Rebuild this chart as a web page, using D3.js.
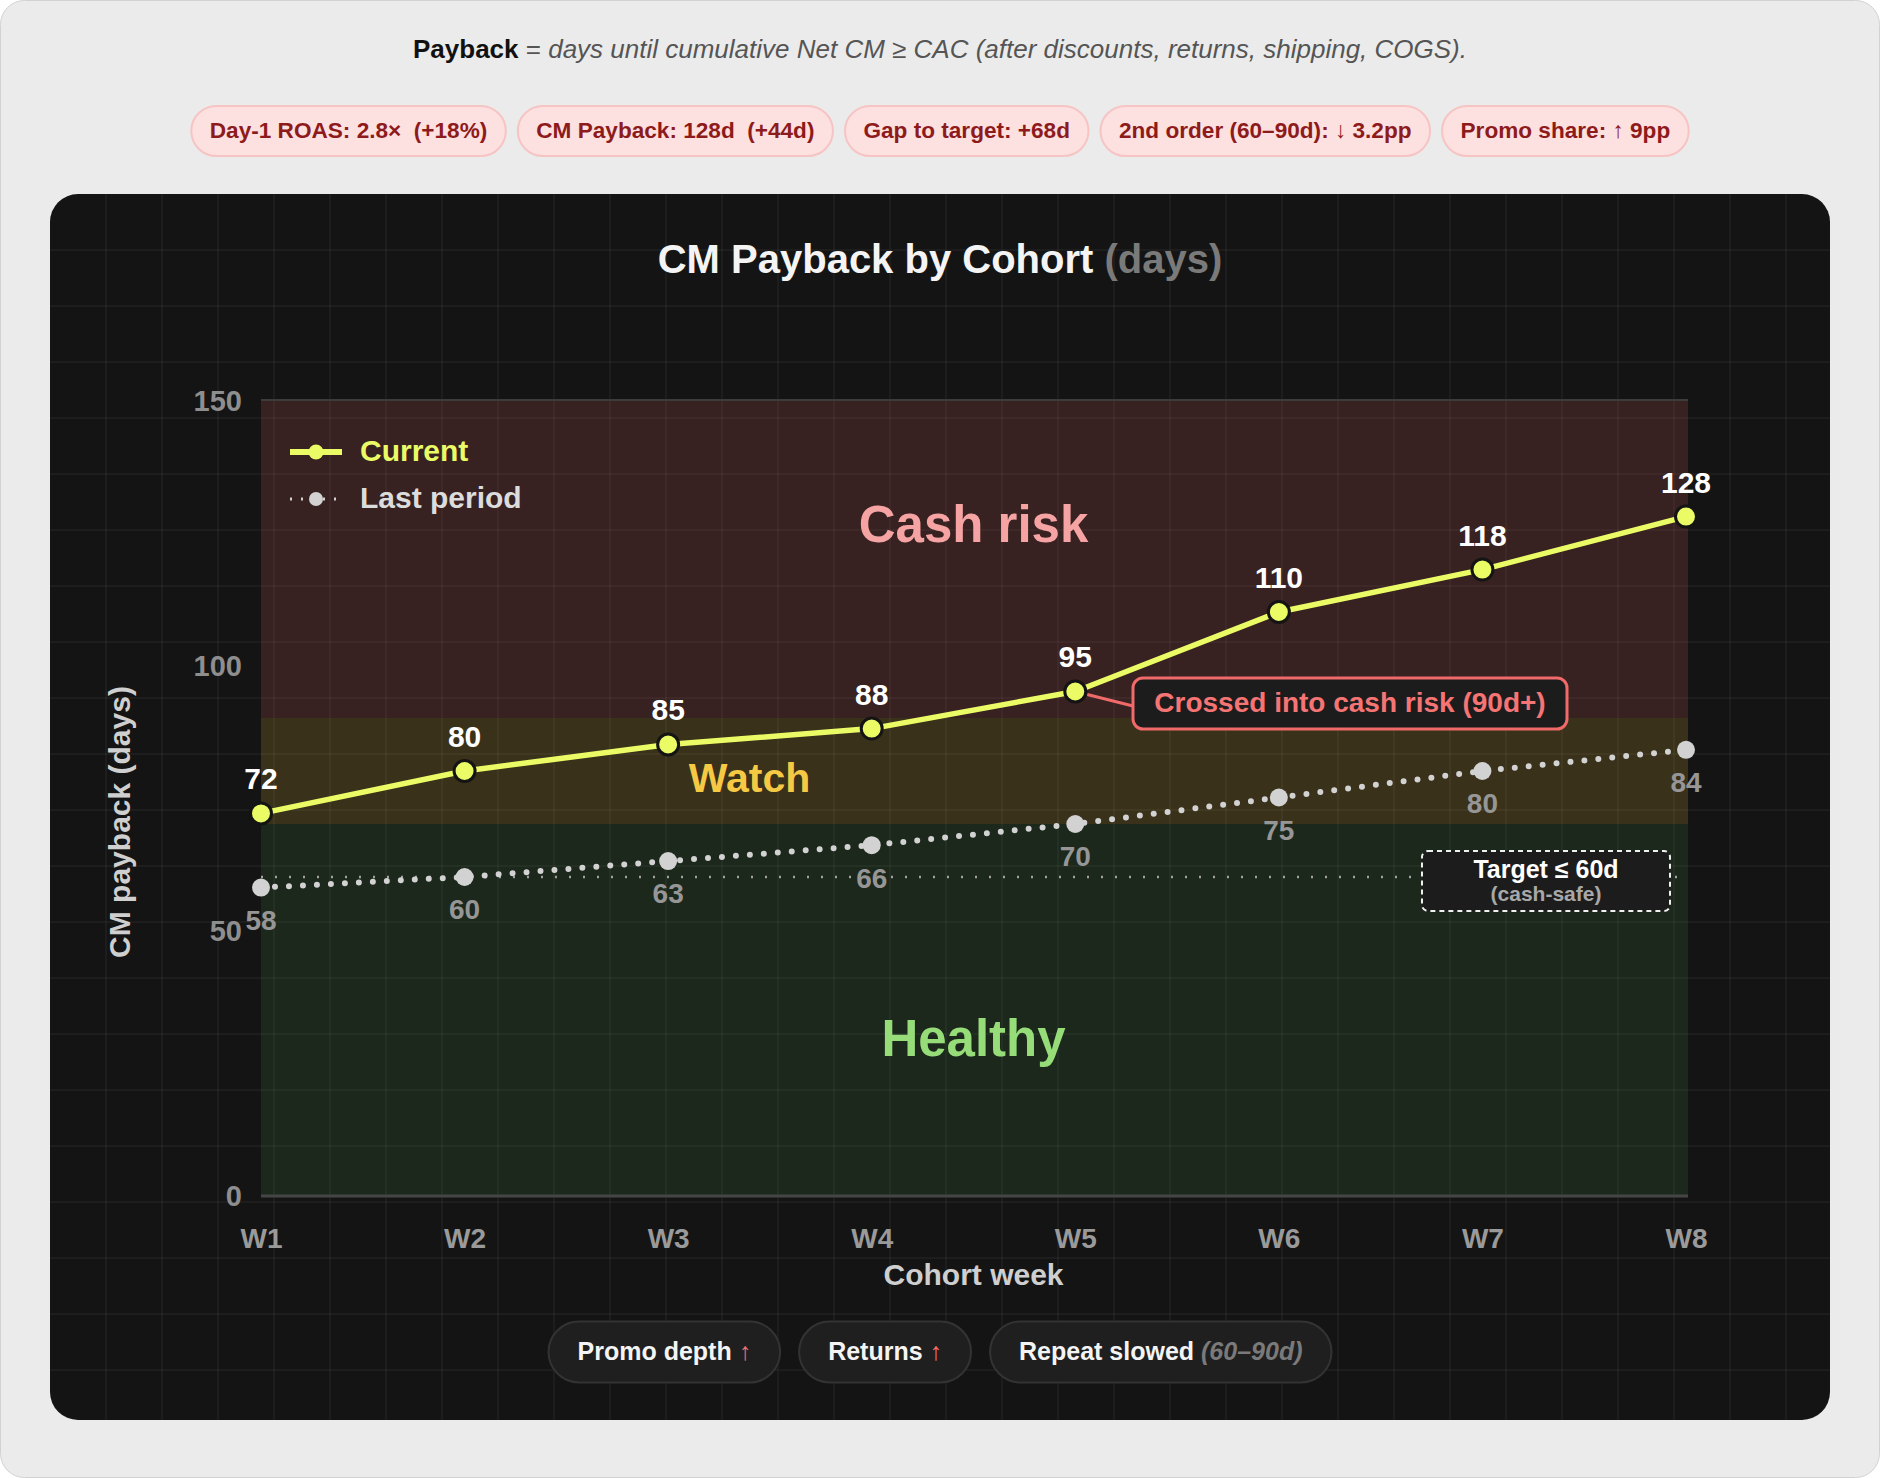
<!DOCTYPE html>
<html>
<head>
<meta charset="utf-8">
<script src="https://cdn.jsdelivr.net/npm/d3@7"></script>
<style>
  html, body { margin: 0; padding: 0; background: #ffffff; }
  svg text { font-family: "Liberation Sans", Arial, sans-serif; }
</style>
</head>
<body>
<div id="chart"></div>
<script>
// ---- data ----
const weeks = ['W1', 'W2', 'W3', 'W4', 'W5', 'W6', 'W7', 'W8'];
const current = [72, 80, 85, 88, 95, 110, 118, 128];
const lastPeriod = [58, 60, 63, 66, 70, 75, 80, 84];
const yTicks = [0, 50, 100, 150];
const zoneNames = ['Healthy', 'Watch', 'Cash risk'];
const zoneBounds = [[0, 70], [70, 90], [90, 150]];
const targetDays = 60;
const kpiMain = ['Day-1 ROAS: 2.8×', 'CM Payback: 128d', 'Gap to target: +68d', '2nd order (60–90d): ↓ 3.2pp', 'Promo share: ↑ 9pp'];
const kpiDelta = ['(+18%)', '(+44d)', '', '', ''];
const driverMain = ['Promo depth', 'Returns', 'Repeat slowed'];
const driverNote = ['↑', '↑', '(60–90d)'];

// ---- layout ----
const W = 1880, H = 1478;
const card = { x: 50, y: 194, w: 1780, h: 1226, r: 28 };
const plot = { left: 261, right: 1686, top: 400, bottom: 1195 };

const zoneStyle = {
  'Healthy':   { fill: '#52b552', opacity: 0.13, text: '#96dc78', size: 51 },
  'Watch':     { fill: '#f3c53c', opacity: 0.17, text: '#f6c944', size: 41 },
  'Cash risk': { fill: '#ff6a6a', opacity: 0.15, text: '#f6a3a3', size: 51 }
};
const yellow = '#ebfb66';

const svg = d3.select('#chart').append('svg')
  .attr('width', W).attr('height', H);

// page background
svg.append('rect')
  .attr('x', 0.5).attr('y', 0.5).attr('width', W - 1).attr('height', H - 1)
  .attr('rx', 24).attr('fill', '#ebebeb').attr('stroke', '#d2d2d2');

// subtitle
const sub = svg.append('text')
  .attr('x', W / 2).attr('y', 51)
  .attr('text-anchor', 'middle').attr('dominant-baseline', 'middle')
  .attr('font-size', 26);
sub.append('tspan').attr('font-weight', 'bold').attr('fill', '#111').text('Payback');
sub.append('tspan').attr('fill', '#555').text(' = ');
sub.append('tspan').attr('fill', '#555').attr('font-style', 'italic')
  .text('days until cumulative Net CM ≥ CAC (after discounts, returns, shipping, COGS).');

// generic pill row builder
function pillRow(g, items, opts) {
  const groups = g.selectAll('g.pill').data(items).join('g').attr('class', 'pill');
  groups.append('rect');
  const t = groups.append('text')
    .attr('dominant-baseline', 'middle')
    .attr('font-size', opts.fontSize).attr('font-weight', 'bold')
    .style('white-space', 'pre');
  t.each(function (d) { opts.fillText(d3.select(this), d); });
  const widths = [];
  t.each(function () { widths.push(this.getComputedTextLength() + opts.pad * 2); });
  const total = d3.sum(widths) + opts.gap * (items.length - 1);
  let x = opts.cx - total / 2;
  groups.each(function (d, i) {
    const gg = d3.select(this);
    gg.select('rect')
      .attr('x', x).attr('y', opts.cy - opts.h / 2)
      .attr('width', widths[i]).attr('height', opts.h)
      .attr('rx', opts.h / 2)
      .attr('fill', opts.fill).attr('stroke', opts.stroke).attr('stroke-width', 2);
    gg.select('text').attr('x', x + opts.pad).attr('y', opts.cy + 1);
    x += widths[i] + opts.gap;
  });
}

// KPI pills
pillRow(svg.append('g'), d3.range(kpiMain.length), {
  cx: W / 2, cy: 131, h: 50, pad: 18.5, gap: 12, fontSize: 22.6,
  fill: '#fde0e0', stroke: '#f7c4c4',
  fillText: (t, i) => {
    t.attr('fill', '#8e1b1b');
    t.text(kpiMain[i] + (kpiDelta[i] ? '  ' + kpiDelta[i] : ''));
  }
});

// dark card
const defs = svg.append('defs');
defs.append('clipPath').attr('id', 'card-clip')
  .append('rect')
  .attr('x', card.x).attr('y', card.y).attr('width', card.w).attr('height', card.h).attr('rx', card.r);

svg.append('rect')
  .attr('x', card.x).attr('y', card.y).attr('width', card.w).attr('height', card.h)
  .attr('rx', card.r).attr('fill', '#141414');

// background grid
const grid = svg.append('g').attr('clip-path', 'url(#card-clip)')
  .attr('stroke', '#ffffff').attr('stroke-opacity', 0.055).attr('stroke-width', 1.5);
grid.selectAll('.gv').data(d3.range(card.x + 56, card.x + card.w, 56)).join('line')
  .attr('x1', d => d).attr('x2', d => d).attr('y1', card.y).attr('y2', card.y + card.h);
grid.selectAll('.gh').data(d3.range(card.y + 56, card.y + card.h, 56)).join('line')
  .attr('y1', d => d).attr('y2', d => d).attr('x1', card.x).attr('x2', card.x + card.w);

// title
const title = svg.append('text')
  .attr('x', W / 2).attr('y', 262)
  .attr('text-anchor', 'middle').attr('dominant-baseline', 'middle')
  .attr('font-size', 40).attr('font-weight', 'bold');
title.append('tspan').attr('fill', '#f4f4f4').text('CM Payback by Cohort ');
title.append('tspan').attr('fill', '#7a7a7a').text('(days)');

// scales
const x = d3.scalePoint().domain(weeks).range([plot.left, plot.right]);
const y = d3.scaleLinear().domain([0, 150]).range([plot.bottom, plot.top]);

// zones
const zones = svg.append('g');
zones.selectAll('rect').data(zoneNames).join('rect')
  .attr('x', plot.left).attr('width', plot.right - plot.left + 2)
  .attr('y', (d, i) => y(zoneBounds[i][1]))
  .attr('height', (d, i) => y(zoneBounds[i][0]) - y(zoneBounds[i][1]))
  .attr('fill', d => zoneStyle[d].fill)
  .attr('fill-opacity', d => zoneStyle[d].opacity);

// frame lines
svg.append('line')
  .attr('x1', plot.left).attr('x2', plot.right + 2).attr('y1', y(150)).attr('y2', y(150))
  .attr('stroke', '#3c3c3c').attr('stroke-width', 2);
svg.append('line')
  .attr('x1', plot.left).attr('x2', plot.right + 2).attr('y1', y(0) + 1).attr('y2', y(0) + 1)
  .attr('stroke', '#454545').attr('stroke-width', 3);

// zone labels (position in x-steps / y-values)
const zoneLabelPos = { 'Cash risk': [3.5, 125.8], 'Watch': [2.4, 78], 'Healthy': [3.5, 28.7] };
const step = x.step();
svg.append('g').selectAll('text').data(zoneNames).join('text')
  .attr('x', d => plot.left + zoneLabelPos[d][0] * step)
  .attr('y', d => y(zoneLabelPos[d][1]))
  .attr('text-anchor', 'middle').attr('dominant-baseline', 'middle')
  .attr('font-weight', 'bold')
  .attr('font-size', d => zoneStyle[d].size)
  .attr('fill', d => zoneStyle[d].text)
  .text(d => d);

// target line
svg.append('line')
  .attr('x1', plot.left).attr('x2', plot.right)
  .attr('y1', y(targetDays)).attr('y2', y(targetDays))
  .attr('stroke', '#a0a0a0').attr('stroke-width', 2.5)
  .attr('stroke-dasharray', '2 12');

// axes
const yAxis = d3.axisLeft(y).tickValues(yTicks).tickSize(0).tickPadding(0);
svg.append('g')
  .attr('transform', `translate(${plot.left - 19},0)`)
  .call(yAxis)
  .call(g => g.select('.domain').remove())
  .call(g => g.selectAll('text')
    .attr('fill', '#8e8e8e').attr('font-size', 29).attr('font-weight', 'bold')
    .attr('font-family', '"Liberation Sans", Arial, sans-serif')
    .attr('dy', '0.35em'));

const xAxis = d3.axisBottom(x).tickSize(0).tickPadding(0);
svg.append('g')
  .attr('transform', `translate(0,${plot.bottom + 33})`)
  .call(xAxis)
  .call(g => g.select('.domain').remove())
  .call(g => g.selectAll('text')
    .attr('fill', '#9a9a9a').attr('font-size', 28).attr('font-weight', 'bold')
    .attr('font-family', '"Liberation Sans", Arial, sans-serif')
    .attr('dy', '0.35em').attr('y', 10));

// axis titles
svg.append('text')
  .attr('x', (plot.left + plot.right) / 2).attr('y', 1277)
  .attr('text-anchor', 'middle').attr('dominant-baseline', 'middle')
  .attr('font-size', 30).attr('font-weight', 'bold').attr('fill', '#cfcfcf')
  .text('Cohort week');
svg.append('text')
  .attr('transform', 'translate(122,822) rotate(-90)')
  .attr('text-anchor', 'middle').attr('dominant-baseline', 'middle')
  .attr('font-size', 30).attr('font-weight', 'bold').attr('fill', '#cfcfcf')
  .text('CM payback (days)');

// last period line
const line = d3.line().x((d, i) => x(weeks[i])).y(d => y(d));
svg.append('path')
  .attr('d', line(lastPeriod))
  .attr('fill', 'none').attr('stroke', '#d2d2d2').attr('stroke-width', 6)
  .attr('stroke-linecap', 'round').attr('stroke-dasharray', '0 14');
svg.append('g').selectAll('circle').data(lastPeriod).join('circle')
  .attr('cx', (d, i) => x(weeks[i])).attr('cy', d => y(d))
  .attr('r', 9).attr('fill', '#d2d2d2');
svg.append('g').selectAll('text').data(lastPeriod).join('text')
  .attr('x', (d, i) => x(weeks[i])).attr('y', d => y(d) + 35)
  .attr('text-anchor', 'middle').attr('dominant-baseline', 'middle')
  .attr('font-size', 28).attr('font-weight', 'bold').attr('fill', '#969696')
  .text(d => d);

// current line
svg.append('path')
  .attr('d', line(current))
  .attr('fill', 'none').attr('stroke', yellow).attr('stroke-width', 5.5)
  .attr('stroke-linejoin', 'round');

// annotation connector + box
const crossIdx = current.findIndex(v => v >= 90);
const px = x(weeks[crossIdx]), py = y(current[crossIdx]);
const box = { x: 1133, y: 678, w: 434, h: 51 };
svg.append('line')
  .attr('x1', px + 12).attr('y1', py + 3).attr('x2', box.x).attr('y2', box.y + 28)
  .attr('stroke', '#f06a6a').attr('stroke-width', 3);
svg.append('rect')
  .attr('x', box.x).attr('y', box.y).attr('width', box.w).attr('height', box.h)
  .attr('rx', 10).attr('fill', '#1c1c1c').attr('stroke', '#f06a6a').attr('stroke-width', 3);
svg.append('text')
  .attr('x', box.x + box.w / 2).attr('y', box.y + box.h / 2 + 1)
  .attr('text-anchor', 'middle').attr('dominant-baseline', 'middle')
  .attr('font-size', 28).attr('font-weight', 'bold').attr('fill', '#f57474')
  .text('Crossed into cash risk (90d+)');

svg.append('g').selectAll('circle').data(current).join('circle')
  .attr('cx', (d, i) => x(weeks[i])).attr('cy', d => y(d))
  .attr('r', 10.5).attr('fill', yellow).attr('stroke', '#141414').attr('stroke-width', 3);
svg.append('g').selectAll('text').data(current).join('text')
  .attr('x', (d, i) => x(weeks[i])).attr('y', d => y(d) - 32)
  .attr('text-anchor', 'middle').attr('dominant-baseline', 'middle')
  .attr('font-size', 30).attr('font-weight', 'bold').attr('fill', '#ffffff')
  .text(d => d);

// target box
const tb = { x: 1422, y: 851, w: 248, h: 60 };
svg.append('rect')
  .attr('x', tb.x).attr('y', tb.y).attr('width', tb.w).attr('height', tb.h)
  .attr('rx', 6).attr('fill', '#1c1c1c')
  .attr('stroke', '#f0f0f0').attr('stroke-width', 2).attr('stroke-dasharray', '5 4');
svg.append('text')
  .attr('x', tb.x + tb.w / 2).attr('y', tb.y + 20)
  .attr('text-anchor', 'middle').attr('dominant-baseline', 'middle')
  .attr('font-size', 25).attr('font-weight', 'bold').attr('fill', '#ffffff')
  .text('Target ≤ ' + targetDays + 'd');
svg.append('text')
  .attr('x', tb.x + tb.w / 2).attr('y', tb.y + 44)
  .attr('text-anchor', 'middle').attr('dominant-baseline', 'middle')
  .attr('font-size', 21).attr('font-weight', 'bold').attr('fill', '#a8a8a8')
  .text('(cash-safe)');

// legend
const legend = svg.append('g').attr('transform', 'translate(290,452)');
legend.append('line').attr('x1', 0).attr('x2', 52).attr('y1', 0).attr('y2', 0)
  .attr('stroke', yellow).attr('stroke-width', 6);
legend.append('circle').attr('cx', 26).attr('cy', 0).attr('r', 7.5).attr('fill', yellow);
legend.append('text').attr('x', 70).attr('y', 1).attr('dominant-baseline', 'middle')
  .attr('font-size', 30).attr('font-weight', 'bold').attr('fill', yellow).text('Current');
legend.append('line').attr('x1', 0).attr('x2', 52).attr('y1', 47).attr('y2', 47)
  .attr('stroke', '#d2d2d2').attr('stroke-width', 3).attr('stroke-dasharray', '2 9');
legend.append('circle').attr('cx', 26).attr('cy', 47).attr('r', 7).attr('fill', '#d2d2d2');
legend.append('text').attr('x', 70).attr('y', 48).attr('dominant-baseline', 'middle')
  .attr('font-size', 30).attr('font-weight', 'bold').attr('fill', '#dcdcdc').text('Last period');

// driver pills
pillRow(svg.append('g'), d3.range(driverMain.length), {
  cx: W / 2, cy: 1352, h: 61, pad: 29, gap: 19, fontSize: 25,
  fill: '#1f1f1f', stroke: '#333333',
  fillText: (t, i) => {
    t.append('tspan').attr('fill', '#f4f4f4').text(driverMain[i] + ' ');
    if (driverNote[i] === '↑') {
      t.append('tspan').attr('fill', '#f07070').attr('font-weight', 'normal').text(driverNote[i]);
    } else {
      t.append('tspan').attr('fill', '#7a7a7a').attr('font-style', 'italic').text(driverNote[i]);
    }
  }
});
</script>
</body>
</html>
